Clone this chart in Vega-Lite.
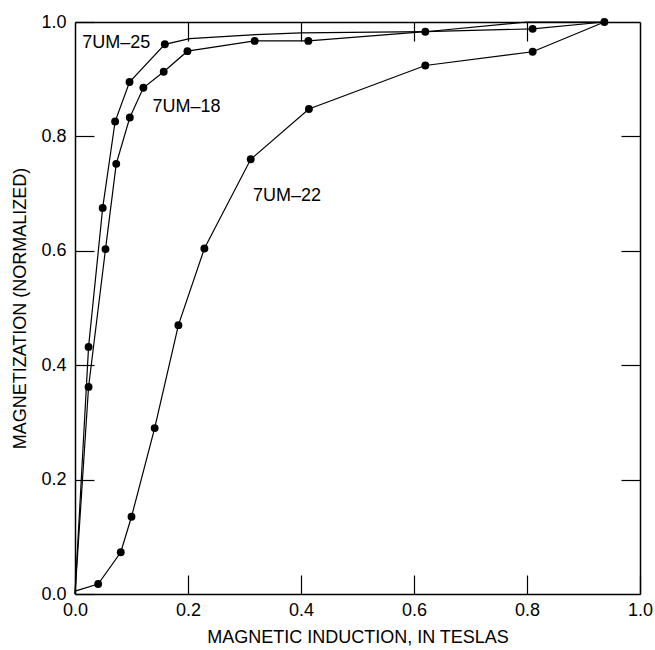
{
  "$schema": "https://vega.github.io/schema/vega-lite/v6.json",
  "width": 565,
  "height": 572,
  "autosize": {"type": "none"},
  "padding": {"left": 75, "top": 22, "right": 15, "bottom": 56},
  "background": "white",
  "config": {
    "view": {"stroke": null},
    "font": "Liberation Sans",
    "axis": {
      "domainColor": "black",
      "domainWidth": 1.5,
      "tickColor": "black",
      "tickWidth": 1.2,
      "tickSize": -19,
      "labelColor": "black",
      "labelFont": "Liberation Sans",
      "labelFontSize": 18,
      "titleColor": "black",
      "titleFont": "Liberation Sans",
      "titleFontSize": 18,
      "titleFontWeight": "normal",
      "grid": false
    }
  },
  "datasets": {
    "curves": [
      {"sample": "7UM-25", "b": 0.0, "m": 0.0},
      {"sample": "7UM-25", "b": 0.024, "m": 0.432},
      {"sample": "7UM-25", "b": 0.049, "m": 0.675},
      {"sample": "7UM-25", "b": 0.071, "m": 0.826},
      {"sample": "7UM-25", "b": 0.0965, "m": 0.895},
      {"sample": "7UM-25", "b": 0.159, "m": 0.961},
      {"sample": "7UM-25", "b": 0.203, "m": 0.971},
      {"sample": "7UM-25", "b": 0.32, "m": 0.978},
      {"sample": "7UM-25", "b": 0.40, "m": 0.981},
      {"sample": "7UM-25", "b": 0.62, "m": 0.983},
      {"sample": "7UM-25", "b": 0.80, "m": 1.0},
      {"sample": "7UM-25", "b": 0.937, "m": 1.0},
      {"sample": "7UM-18", "b": 0.0, "m": 0.0},
      {"sample": "7UM-18", "b": 0.024, "m": 0.362},
      {"sample": "7UM-18", "b": 0.054, "m": 0.603},
      {"sample": "7UM-18", "b": 0.073, "m": 0.752},
      {"sample": "7UM-18", "b": 0.097, "m": 0.833},
      {"sample": "7UM-18", "b": 0.121, "m": 0.885},
      {"sample": "7UM-18", "b": 0.157, "m": 0.913},
      {"sample": "7UM-18", "b": 0.199, "m": 0.949},
      {"sample": "7UM-18", "b": 0.318, "m": 0.967},
      {"sample": "7UM-18", "b": 0.413, "m": 0.967},
      {"sample": "7UM-18", "b": 0.62, "m": 0.983},
      {"sample": "7UM-18", "b": 0.81, "m": 0.988},
      {"sample": "7UM-18", "b": 0.937, "m": 1.0},
      {"sample": "7UM-22", "b": 0.0, "m": 0.005},
      {"sample": "7UM-22", "b": 0.041, "m": 0.0175},
      {"sample": "7UM-22", "b": 0.081, "m": 0.073},
      {"sample": "7UM-22", "b": 0.100, "m": 0.135},
      {"sample": "7UM-22", "b": 0.141, "m": 0.290},
      {"sample": "7UM-22", "b": 0.183, "m": 0.470},
      {"sample": "7UM-22", "b": 0.229, "m": 0.604},
      {"sample": "7UM-22", "b": 0.311, "m": 0.760},
      {"sample": "7UM-22", "b": 0.414, "m": 0.848},
      {"sample": "7UM-22", "b": 0.620, "m": 0.924},
      {"sample": "7UM-22", "b": 0.810, "m": 0.948},
      {"sample": "7UM-22", "b": 0.937, "m": 1.0}
    ],
    "points": [
      {"sample": "7UM-25", "b": 0.024, "m": 0.432},
      {"sample": "7UM-25", "b": 0.049, "m": 0.675},
      {"sample": "7UM-25", "b": 0.071, "m": 0.826},
      {"sample": "7UM-25", "b": 0.0965, "m": 0.895},
      {"sample": "7UM-25", "b": 0.159, "m": 0.961},
      {"sample": "7UM-18", "b": 0.024, "m": 0.362},
      {"sample": "7UM-18", "b": 0.054, "m": 0.603},
      {"sample": "7UM-18", "b": 0.073, "m": 0.752},
      {"sample": "7UM-18", "b": 0.097, "m": 0.833},
      {"sample": "7UM-18", "b": 0.121, "m": 0.885},
      {"sample": "7UM-18", "b": 0.157, "m": 0.913},
      {"sample": "7UM-18", "b": 0.199, "m": 0.949},
      {"sample": "7UM-18", "b": 0.318, "m": 0.967},
      {"sample": "7UM-18", "b": 0.413, "m": 0.967},
      {"sample": "7UM-18", "b": 0.62, "m": 0.983},
      {"sample": "7UM-18", "b": 0.81, "m": 0.988},
      {"sample": "7UM-18", "b": 0.937, "m": 1.0},
      {"sample": "7UM-22", "b": 0.041, "m": 0.0175},
      {"sample": "7UM-22", "b": 0.081, "m": 0.073},
      {"sample": "7UM-22", "b": 0.100, "m": 0.135},
      {"sample": "7UM-22", "b": 0.141, "m": 0.290},
      {"sample": "7UM-22", "b": 0.183, "m": 0.470},
      {"sample": "7UM-22", "b": 0.229, "m": 0.604},
      {"sample": "7UM-22", "b": 0.311, "m": 0.760},
      {"sample": "7UM-22", "b": 0.414, "m": 0.848},
      {"sample": "7UM-22", "b": 0.620, "m": 0.924},
      {"sample": "7UM-22", "b": 0.810, "m": 0.948}
    ],
    "labels": [
      {"name": "7UM–25", "b": 0.013, "m": 0.963},
      {"name": "7UM–18", "b": 0.137, "m": 0.852},
      {"name": "7UM–22", "b": 0.315, "m": 0.696}
    ]
  },
  "resolve": {"axis": {"x": "independent", "y": "independent"}},
  "layer": [
    {
      "data": {"name": "curves"},
      "mark": {"type": "line", "color": "black", "strokeWidth": 1.2},
      "encoding": {
        "x": {
          "field": "b", "type": "quantitative",
          "scale": {"domain": [0, 1], "nice": false},
          "axis": {
            "orient": "bottom",
            "title": "MAGNETIC INDUCTION, IN TESLAS",
            "titleLetterSpacing": 1.1,
            "titlePadding": 9,
            "values": [0, 0.2, 0.4, 0.6, 0.8, 1.0],
            "format": ".1f",
            "labelPadding": 26,
            "labelFlush": false
          }
        },
        "y": {
          "field": "m", "type": "quantitative",
          "scale": {"domain": [0, 1], "nice": false},
          "axis": {
            "orient": "left",
            "title": "MAGNETIZATION (NORMALIZED)",
            "titleLetterSpacing": 2.2,
            "titlePadding": 11,
            "values": [0, 0.2, 0.4, 0.6, 0.8, 1.0],
            "format": ".1f",
            "labelPadding": 28,
            "labelFlush": false
          }
        },
        "detail": {"field": "sample"}
      }
    },
    {
      "data": {"name": "points"},
      "mark": {"type": "circle", "color": "black", "opacity": 1, "size": 62},
      "encoding": {
        "x": {
          "field": "b", "type": "quantitative",
          "axis": {"orient": "top", "title": null, "labels": false, "values": [0.2, 0.4, 0.6, 0.8]}
        },
        "y": {
          "field": "m", "type": "quantitative",
          "axis": {"orient": "right", "title": null, "labels": false, "values": [0.2, 0.4, 0.6, 0.8]}
        }
      }
    },
    {
      "data": {"name": "labels"},
      "mark": {"type": "text", "align": "left", "baseline": "middle", "font": "Liberation Sans", "fontSize": 18, "color": "black"},
      "encoding": {
        "x": {"field": "b", "type": "quantitative", "axis": null},
        "y": {"field": "m", "type": "quantitative", "axis": null},
        "text": {"field": "name"}
      }
    }
  ]
}
